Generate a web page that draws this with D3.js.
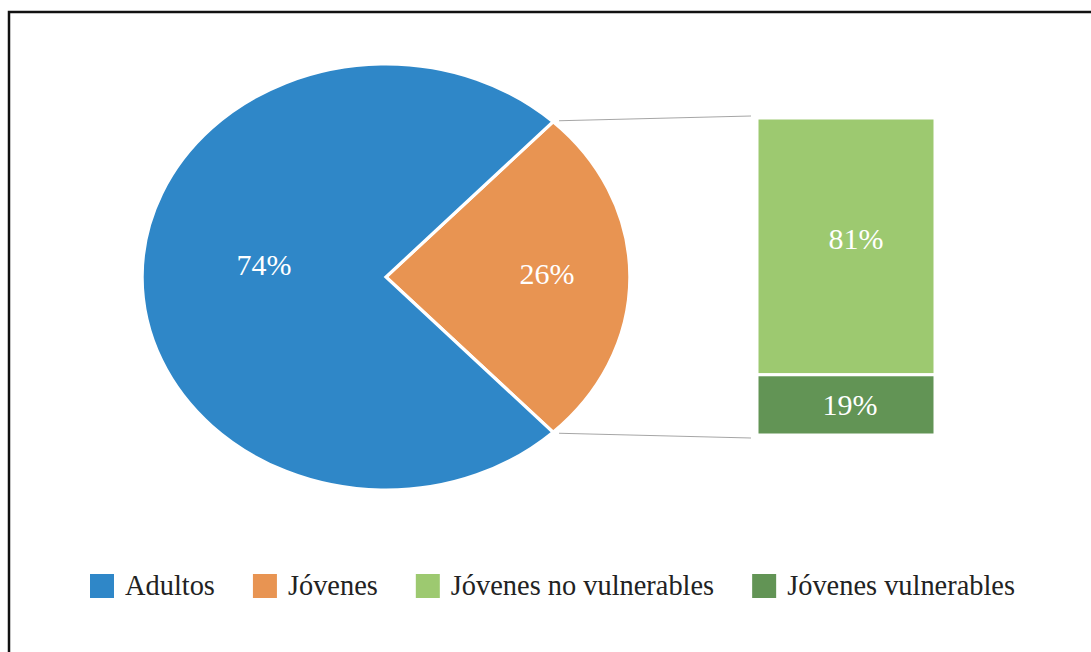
<!DOCTYPE html>
<html>
<head>
<meta charset="utf-8">
<script src="https://cdn.jsdelivr.net/npm/d3@7/dist/d3.min.js"></script>
<style>
  html, body { margin: 0; padding: 0; background: #fff; }
  svg { display: block; }
  text { font-family: "Liberation Serif", "DejaVu Serif", serif; }
</style>
</head>
<body>
<svg id="chart" width="1091" height="652"></svg>
<script>
// ---- data ----
const pieCategories = ["Jóvenes", "Adultos"];
const pieValues = [26, 74];
const barCategories = ["Jóvenes no vulnerables", "Jóvenes vulnerables"];
const barValues = [81, 19];
const legendLabels = ["Adultos", "Jóvenes", "Jóvenes no vulnerables", "Jóvenes vulnerables"];
const colors = {
  "Adultos": "#2F87C8",
  "Jóvenes": "#E89452",
  "Jóvenes no vulnerables": "#9DC970",
  "Jóvenes vulnerables": "#629455"
};

const svg = d3.select("#chart");

// frame
svg.append("rect")
  .attr("x", 9).attr("y", 12)
  .attr("width", 1200).attr("height", 800)
  .attr("fill", "none").attr("stroke", "#111").attr("stroke-width", 2.5);

// ---- pie (elliptical) ----
const cx = 386, cy = 277, rx = 244, ry = 213;
const halfAngle = pieValues[0] / 100 * Math.PI; // half of the Jóvenes slice
const pie = d3.pie().sort(null).value(d => d)
  .startAngle(Math.PI / 2 - halfAngle)
  .endAngle(Math.PI / 2 - halfAngle + 2 * Math.PI);
const arcs = pie(pieValues);
const arc = d3.arc().innerRadius(0).outerRadius(ry);

const pieG = svg.append("g").attr("transform", `translate(${cx},${cy})`);
const scaleX = rx / ry;
pieG.selectAll("path").data(arcs).enter().append("path")
  .attr("transform", `scale(${scaleX},1)`)
  .attr("d", arc)
  .attr("fill", (d, i) => colors[pieCategories[i]])
  .attr("stroke", "#fff")
  .attr("stroke-width", 3)
  .attr("stroke-linejoin", "miter");

// pie labels (radial fraction and vertical offset per slice)
const labelRadius = [0.66, 0.50];
const labelDy = [7, -2];
pieG.selectAll("text.pl").data(arcs).enter().append("text")
  .attr("class", "pl")
  .attr("transform", (d, i) => {
    const la = d3.arc().innerRadius(ry * labelRadius[i]).outerRadius(ry * labelRadius[i]);
    const c = la.centroid(d);
    return `translate(${c[0] * scaleX},${c[1] + labelDy[i]})`;
  })
  .attr("text-anchor", "middle")
  .attr("fill", "#fff")
  .attr("font-size", 30)
  .text(d => d.value + "%");

// ---- bar of pie ----
const barX = 757, barW = 178;
const y = d3.scaleLinear().domain([0, 100]).range([435, 118]);
const stackTop = barValues.map((v, i) => {
  const top = 100 - d3.sum(barValues.slice(0, i));
  return { name: barCategories[i], v, hi: top, lo: top - v };
});
svg.selectAll("rect.bar").data(stackTop).enter().append("rect")
  .attr("class", "bar")
  .attr("x", barX).attr("width", barW)
  .attr("y", d => y(d.hi)).attr("height", d => y(d.lo) - y(d.hi))
  .attr("fill", d => colors[d.name])
  .attr("stroke", "#fff").attr("stroke-width", 3);

svg.selectAll("text.bl").data(stackTop).enter().append("text")
  .attr("class", "bl")
  .attr("x", (d, i) => barX + barW / 2 + (i === 0 ? 10 : 4))
  .attr("y", (d, i) => i === 0 ? y(d.hi) + 0.47 * (y(d.lo) - y(d.hi)) + 10 : (y(d.hi) + y(d.lo)) / 2 + 10)
  .attr("text-anchor", "middle")
  .attr("fill", "#fff")
  .attr("font-size", 30)
  .text(d => d.v + "%");

// connector lines
const a0 = arcs[0].startAngle, a1 = arcs[0].endAngle;
const pt = a => [cx + Math.sin(a) * rx, cy - Math.cos(a) * ry];
const p0 = pt(a0), p1 = pt(a1);
svg.append("line")
  .attr("x1", p0[0] + 6).attr("y1", p0[1] - 1)
  .attr("x2", barX - 6).attr("y2", y(100) - 2)
  .attr("stroke", "#a6a6a6").attr("stroke-width", 1.2);
svg.append("line")
  .attr("x1", p1[0] + 6).attr("y1", p1[1] + 1)
  .attr("x2", barX - 6).attr("y2", y(0) + 3)
  .attr("stroke", "#a6a6a6").attr("stroke-width", 1.2);

// ---- legend ----
const legend = svg.append("g");
let lx = 90;
const ly = 586;
legendLabels.forEach(lbl => {
  legend.append("rect")
    .attr("x", lx).attr("y", ly - 12).attr("width", 24).attr("height", 24)
    .attr("fill", colors[lbl]);
  const t = legend.append("text")
    .attr("x", lx + 35).attr("y", ly + 9)
    .attr("font-size", 28.4)
    .attr("fill", "#222")
    .text(lbl);
  const w = t.node().getComputedTextLength();
  lx = lx + 35 + w + 38;
});
</script>
</body>
</html>
